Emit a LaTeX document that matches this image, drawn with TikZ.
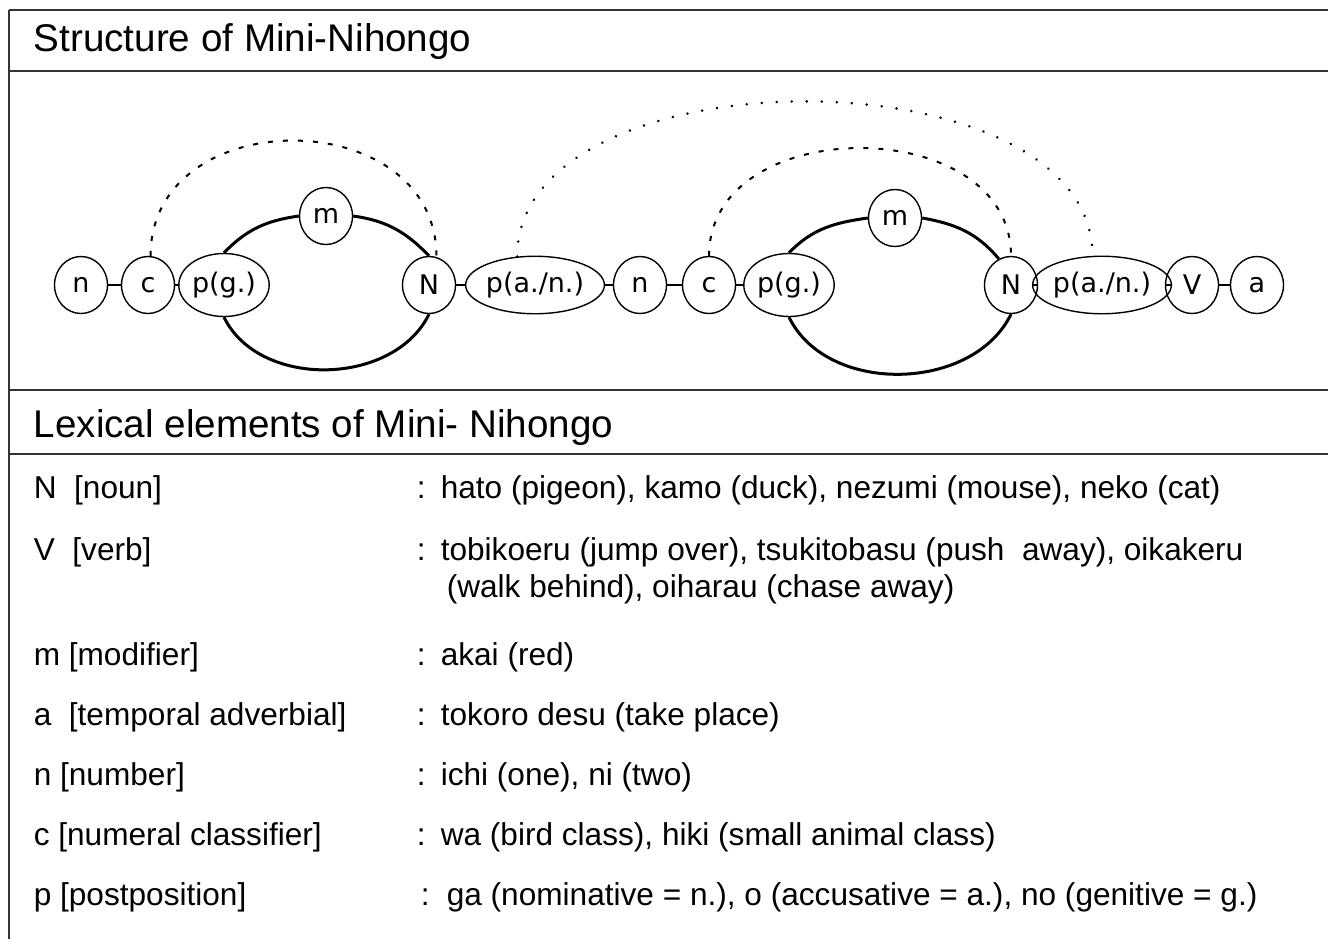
\documentclass[tikz,border=0pt]{standalone}
\usepackage{fontspec}
\setmainfont{Liberation Sans}
\newfontfamily\unitfont{DejaVu Sans}
\usetikzlibrary{shapes.geometric}

\begin{document}
\begin{tikzpicture}[x=0.5pt,y=0.5pt,thick,
    unit/.style={draw,ellipse,line width=0.7pt,inner sep=0pt,minimum width=26.5pt,minimum height=28.5pt,font=\unitfont\fontsize{13.5}{13.5}\selectfont},
    post/.style={unit,minimum width=37pt,minimum height=31.5pt},
    postwide/.style={unit,minimum width=57pt,minimum height=28.75pt},
    link/.style={line width=1pt},
    loopline/.style={line width=1.5pt},
    dashline/.style={line width=1pt,dash pattern=on 2.5pt off 5pt},
    dotline/.style={line width=1.4pt,line cap=round,dash pattern=on 0.01pt off 7.5pt},
    frame/.style={line width=1pt,black!80},
    head/.style={anchor=base west,inner sep=0pt,font=\fontsize{19.3}{22}\selectfont},
    entry/.style={anchor=base west,inner sep=0pt,font=\fontsize{15.8}{18}\selectfont}]
  \useasboundingbox (0,0) rectangle (1328,-939);
  % frame
  \draw[frame] (9,-10) -- (1328,-10) (9,-10) -- (9,-939)
    (9,-71) -- (1328,-71) (9,-390) -- (1328,-390) (9,-454) -- (1328,-454);
  \node[head] (title1) at (33,-51) {Structure of Mini-Nihongo};
  \node[head] (title2) at (33,-437) {Lexical elements of Mini- Nihongo};
  % structure
  \node[unit] (n1) at (81,-285) {n};
  \node[unit] (c1) at (148,-285) {c};
  \node[post] (pg1) at (224,-285) {p(g.)};
  \node[unit] (m1) at (326,-216) {m};
  \node[unit] (N1) at (429,-285) {N};
  \node[postwide] (pan1) at (535,-285) {p(a./n.)};
  \node[unit] (n2) at (640,-285) {n};
  \node[unit] (c2) at (709,-285) {c};
  \node[post] (pg2) at (789,-285) {p(g.)};
  \node[unit] (m2) at (895,-218) {m};
  \node[unit] (N2) at (1011,-285) {N};
  \node[postwide] (pan2) at (1102,-285) {p(a./n.)};
  \node[unit] (V) at (1192,-285) {V};
  \node[unit] (a) at (1257,-285) {a};
  \foreach \s/\t in {n1/c1,c1/pg1,N1/pan1,pan1/n2,n2/c2,c2/pg2,N2/pan2,pan2/V,V/a}
    \draw[link] (\s) -- (\t);
  \draw[loopline] (pg1.north) to[out=46,in=188] (m1.west)
    (m1.east) to[out=-8,in=134] (N1.north)
    (pg1.south) to[out=-64,in=-116] (N1.south);
  \draw[loopline] (pg2.north) to[out=46,in=188] (m2.west)
    (m2.east) to[out=-10,in=130] (N2.115)
    (pg2.south) to[out=-64,in=-116] (N2.south);
  \draw[dashline] (c1.85) to[out=90,in=90,looseness=1.38] (N1.75);
  \draw[dashline] (c2.north) to[out=90,in=90,looseness=1.22] (N2.north);
  \draw[dotline] (pan1.122) to[out=90,in=90,looseness=0.92] (pan2.108);
  % lexicon
  \node[entry] (kN) at (33,-498) {N\ \ [noun]};
  \node[entry] (cN) at (416,-498) {:};
  \node[entry] (vN) at (440,-498) {hato (pigeon), kamo (duck), nezumi (mouse), neko (cat)};
  \node[entry] (kV) at (33,-560) {V\ \ [verb]};
  \node[entry] (cV) at (416,-560) {:};
  \node[entry] (vV) at (440,-560) {tobikoeru (jump over), tsukitobasu (push\ \ away), oikakeru};
  \node[entry] (vV2) at (446,-597) {(walk behind), oiharau (chase away)};
  \node[entry] (km) at (33,-665) {m [modifier]};
  \node[entry] (cm) at (416,-665) {:};
  \node[entry] (vm) at (440,-665) {akai (red)};
  \node[entry] (ka) at (33,-725) {a\ \ [temporal adverbial]};
  \node[entry] (ca) at (416,-725) {:};
  \node[entry] (va) at (440,-725) {tokoro desu (take place)};
  \node[entry] (kn) at (33,-785) {n [number]};
  \node[entry] (cn) at (416,-785) {:};
  \node[entry] (vn) at (440,-785) {ichi (one), ni (two)};
  \node[entry] (kc) at (33,-845) {c [numeral classifier]};
  \node[entry] (cc) at (416,-845) {:};
  \node[entry] (vc) at (440,-845) {wa (bird class), hiki (small animal class)};
  \node[entry] (kp) at (33,-905) {p [postposition]};
  \node[entry] (cp) at (420,-905) {:};
  \node[entry] (vp) at (446,-905) {ga (nominative = n.), o (accusative = a.), no (genitive = g.)};
\end{tikzpicture}
\end{document}
